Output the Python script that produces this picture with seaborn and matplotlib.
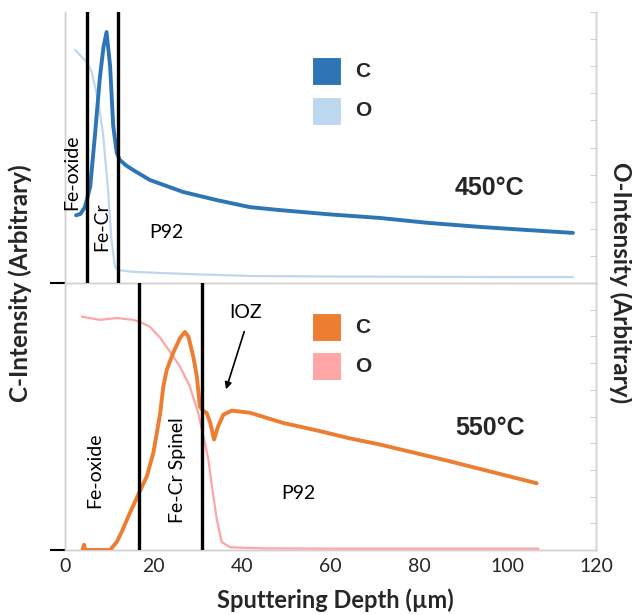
import pandas as pd
import matplotlib.pyplot as plt
from matplotlib.patches import Rectangle
import seaborn as sns

# ---- data (arbitrary intensity units, 0-100 per panel) ----
top_c_depth = [2.5, 3.5, 4.5, 5.3, 5.7, 6.8, 7.9, 8.7, 9.4, 10.2, 10.9, 11.7, 12.4,
               13.8, 15.4, 19.2, 26.7, 34.3, 41.8, 48.6, 60, 71.2, 82, 93.8, 105, 114.8]
top_c_val = [25, 25.5, 28, 33, 35.5, 55, 76, 87, 92.6, 80, 58, 48, 45.4,
             43.4, 41.7, 38, 33.6, 30.6, 28, 26.9, 25.3, 24, 22.2, 20.7, 19.5, 18.5]

top_o_depth = [2.3, 4.9, 6.0, 7.5, 8.6, 9.7, 10.5, 11.3, 12.0, 15, 20, 30, 42,
               60, 80, 100, 114.8]
top_o_val = [86, 81.5, 78, 67.5, 55, 35, 16, 6, 4.8, 4.2, 3.8, 3.2, 2.6,
             2.4, 2.3, 2.2, 2.2]

bot_c_depth = [4.0, 4.3, 4.6, 6, 10.2, 11.7, 12.8, 14.7, 16.8, 18.5, 20, 21.5, 22.2,
               23, 24.5, 26, 27.1, 27.9, 29, 29.8, 30.5, 31.3, 32, 32.8, 33.7, 34.6,
               35.8, 37.7, 41.8, 49.3, 56.9, 64.4, 71.2, 86.3, 106.6]
bot_c_val = [0, 2, 0, 0, 0, 3, 6.7, 14, 21.6, 27.6, 36.6, 51, 61,
             67.5, 74, 79.4, 81.7, 79.9, 72.4, 65, 53.7, 52, 51.4, 47.8, 41.4, 46.3,
             50.7, 52.2, 51.4, 47.6, 44.8, 41.8, 39.5, 33.5, 25]

bot_o_depth = [3.8, 7.9, 11.7, 15.4, 16.9, 19.2, 21.5, 23.7, 26, 28.2, 30.1, 31.3,
               32.4, 33.2, 34.3, 35.4, 37.3, 45, 60, 80, 107]
bot_o_val = [87.4, 86.2, 86.9, 86.2, 85.5, 83.6, 79.5, 74.3, 68.7, 61.3, 51.4, 42.5,
             34, 24, 11.6, 3, 1, 0.6, 0.5, 0.5, 0.5]

top_bounds = [5.0, 12.0]
bot_bounds = [16.7, 31.0]
x_ticks = [0, 20, 40, 60, 80, 100, 120]
series_labels = ['C', 'O']

sns.set_theme(style="white")
plt.rcParams['font.family'] = ['Lato', 'DejaVu Sans']

fig = plt.figure(figsize=(6.32, 6.15), dpi=100)
ax_top = fig.add_axes([0.1028, 0.5398, 0.8402, 0.4407])
ax_bot = fig.add_axes([0.1028, 0.1057, 0.8402, 0.4341])

grey = '#d0d0d0'


def style_panel(ax, c_depth, c_val, o_depth, o_val, c_col, o_col, bounds):
    ax2 = ax.twinx()
    sns.lineplot(x=o_depth, y=o_val, ax=ax2, color=o_col, lw=1.6)
    sns.lineplot(x=c_depth, y=c_val, ax=ax, color=c_col, lw=2.8, zorder=3)
    ax.set_zorder(ax2.get_zorder() + 1)
    ax.patch.set_visible(False)
    for b in bounds:
        ax.axvline(b, color='black', lw=2.4, zorder=4)
    for a in (ax, ax2):
        a.set_xlim(0, 120)
        a.set_ylim(0, 100)
        for s in a.spines.values():
            s.set_color(grey)
            s.set_linewidth(1)
        a.spines['top'].set_visible(False)
    # left: single black tick at zero
    ax.set_yticks([0])
    ax.set_yticklabels([])
    ax.tick_params(axis='y', left=True, length=11, width=1.5, color='black', direction='out')
    # right: light grey inward ticks
    ax2.set_yticks(range(0, 101, 10))
    ax2.set_yticklabels([])
    ax2.tick_params(axis='y', right=True, length=4, width=0.8, color=grey, direction='in')
    ax.set_xlabel('')
    ax.set_ylabel('')
    ax2.set_ylabel('')
    return ax2


ax_top2 = style_panel(ax_top, top_c_depth, top_c_val, top_o_depth, top_o_val,
                      '#2E75B6', '#BDD7EE', top_bounds)
ax_bot2 = style_panel(ax_bot, bot_c_depth, bot_c_val, bot_o_depth, bot_o_val,
                      '#ED7D31', '#FFA5A5', bot_bounds)

ax_top.set_xticks([])
ax_top2.set_xticks([])
ax_bot.set_xticks(x_ticks)
ax_bot.set_xticklabels([str(t) for t in x_ticks], fontsize=14)
ax_bot.tick_params(axis='x', length=0, pad=6)


# legend keys (square swatches + bold labels), axes-fraction coords
def draw_key(ax, colors, sq_bottoms, sq_h, txt_ys):
    for col, yb, ty, lab in zip(colors, sq_bottoms, txt_ys, series_labels):
        ax.add_patch(Rectangle((0.465, yb), 0.0546, sq_h, transform=ax.transAxes,
                               facecolor=col, edgecolor='white', lw=0.8, zorder=5))
        ax.text(0.546, ty, lab, transform=ax.transAxes, fontsize=15, fontweight='bold',
                family='Liberation Sans', ha='left', va='center')


draw_key(ax_top, ['#2E75B6', '#BDD7EE'], [0.7306, 0.583], 0.1033, [0.782, 0.635])
draw_key(ax_bot, ['#ED7D31', '#FFA5A5'], [0.783, 0.637], 0.105, [0.835, 0.689])

# annotations
txt = dict(fontsize=14, color='black', ha='center', va='center')
ax_top.text(1.6, 41, 'Fe-oxide', rotation=90, **txt)
ax_top.text(8.4, 20.7, 'Fe-Cr', rotation=90, **txt)
ax_top.text(23, 18.5, 'P92', **txt)
ax_top.text(96, 35, '450°C', fontsize=18, fontweight='bold', family='Liberation Sans',
            ha='center', va='center')

ax_bot.text(6.8, 30, 'Fe-oxide', rotation=90, **txt)
ax_bot.text(25.5, 30, 'Fe-Cr Spinel', rotation=90, **txt)
ax_bot.text(52.7, 21.3, 'P92', **txt)
ax_bot.text(40.7, 88.8, 'IOZ', **txt)
ax_bot.annotate('', xy=(36.2, 59.2), xytext=(40.7, 82.8),
                arrowprops=dict(arrowstyle='-|>', color='black', lw=1.2, mutation_scale=10))
ax_bot.text(96, 45.7, '550°C', fontsize=18, fontweight='bold', family='Liberation Sans',
            ha='center', va='center')

# axis titles
fig.text(0.032, 0.54, 'C-Intensity (Arbitrary)', rotation=90, fontsize=17.5,
         fontweight='bold', ha='center', va='center')
fig.text(0.983, 0.54, 'O-Intensity (Arbitrary)', rotation=270, fontsize=17.5,
         fontweight='bold', ha='center', va='center')
fig.text(0.53, 0.024, 'Sputtering Depth (µm)', fontsize=17, fontweight='bold',
         ha='center', va='center')

fig.savefig('out.png', dpi=100)
